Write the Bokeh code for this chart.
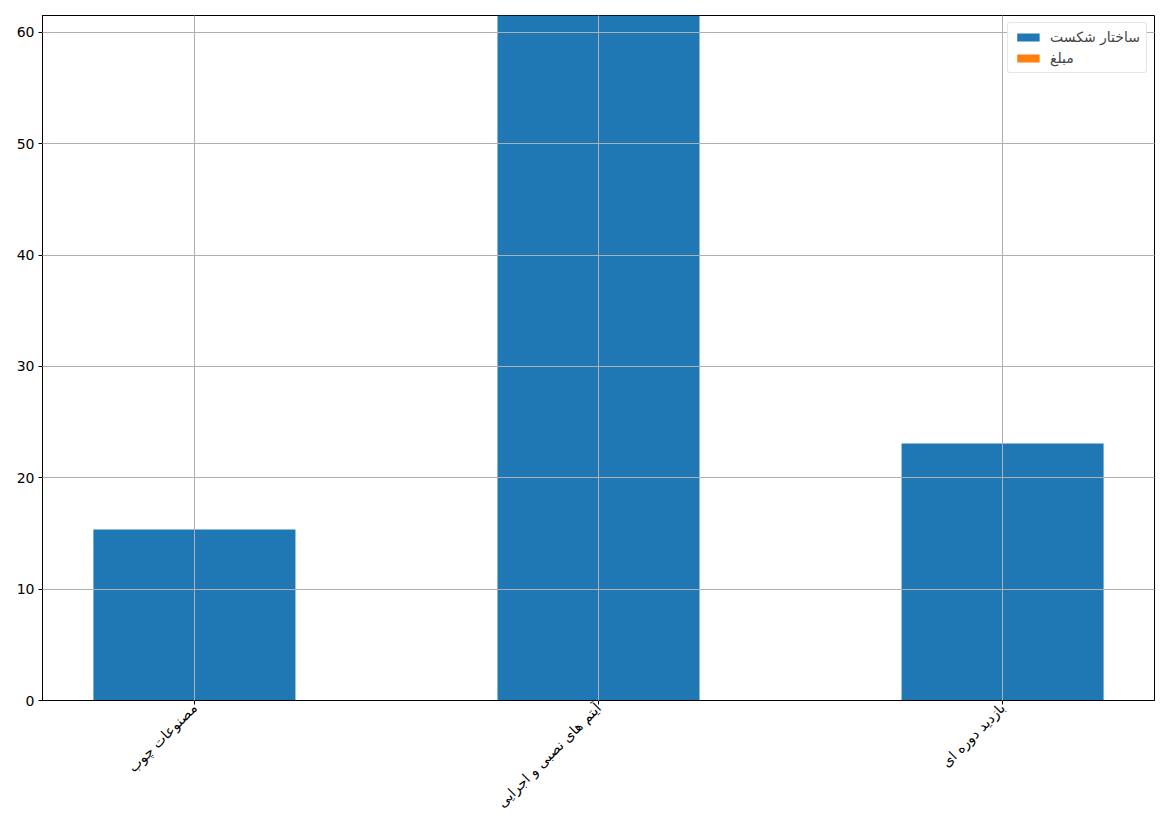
import math
from bokeh.plotting import figure
from bokeh.models import ColumnDataSource, FixedTicker, Range1d, Legend, LegendItem
from bokeh.embed import file_html
from bokeh.resources import INLINE

categories = ["مصنوعات چوب", "آیتم های نصبی و اجرایی", "بازدید دوره ای"]
structure_values = [15.35, 64.0, 23.08]
amount_values = [0.0, 0.0, 0.0]
series_names = ["ساختار شکست", "مبلغ"]
y_ticks = [0, 10, 20, 30, 40, 50, 60]

xs = list(range(len(categories)))
src = ColumnDataSource(dict(x=xs, s=structure_values, a=amount_values))

p = figure(width=1161, height=819, output_backend="svg", toolbar_location=None,
           x_range=Range1d(-0.376, 2.376), y_range=Range1d(0, 61.52),
           min_border_left=42, min_border_top=15, min_border_right=7, min_border_bottom=119)

r1 = p.vbar(x="x", top="s", width=0.5, source=src, fill_color="#1f77b4", line_color=None)
r2 = p.vbar(x="x", top="a", width=0.5, source=src, fill_color="#ff7f0e", line_color=None)

font = "DejaVu Sans"
p.xaxis.ticker = FixedTicker(ticks=xs)
p.xaxis.major_label_overrides = {i: c for i, c in enumerate(categories)}
p.xaxis.major_label_orientation = math.pi / 4
p.yaxis.ticker = FixedTicker(ticks=y_ticks)
for ax in (p.xaxis, p.yaxis):
    ax.major_label_text_font = font
    ax.major_label_text_font_size = "14px"
    ax.major_label_text_color = "black"
    ax.major_tick_in = 0
    ax.major_tick_out = 4
    ax.minor_tick_line_color = None
    ax.axis_line_color = "black"
    ax.major_tick_line_color = "black"
    ax.major_label_standoff = 4
p.xaxis.major_label_standoff = 1

p.grid.grid_line_color = "#b0b0b0"
p.grid.grid_line_width = 1
p.grid.level = "overlay"
p.outline_line_color = "black"
p.outline_line_width = 1

legend = Legend(items=[LegendItem(label=series_names[0], renderers=[r1]),
                       LegendItem(label=series_names[1], renderers=[r2])],
                location="top_right")
legend.label_text_font = font
legend.label_text_font_size = "14px"
legend.border_line_color = "#cccccc"
legend.border_radius = 3
legend.glyph_width = 28
legend.glyph_height = 10
legend.spacing = 5
legend.padding = 6
legend.margin = 7
legend.label_standoff = 8
p.add_layout(legend)

open("out.html", "w").write(file_html(p, INLINE))
